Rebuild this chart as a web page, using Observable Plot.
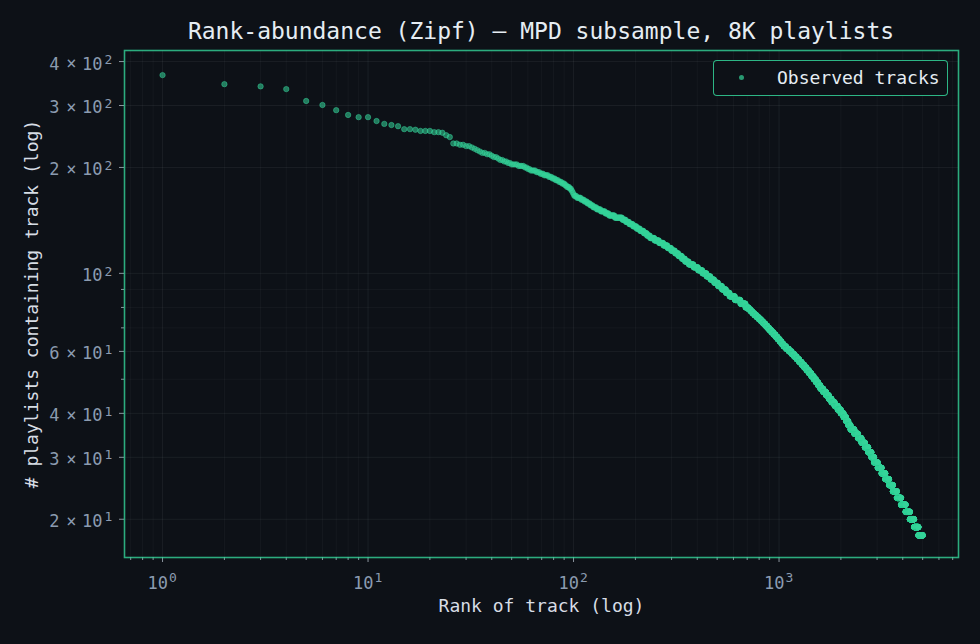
<!DOCTYPE html>
<html>
<head>
<meta charset="utf-8">
<script src="https://cdn.jsdelivr.net/npm/d3@7"></script>
<script src="https://cdn.jsdelivr.net/npm/@observablehq/plot@0.6"></script>
<style>
  html, body { margin: 0; padding: 0; background: #0d1117; }
  #wrap { position: relative; width: 980px; height: 644px; overflow: hidden; font-family: "DejaVu Sans Mono", monospace; background: #0d1117; }
  #title { height: 44px; box-sizing: border-box; padding: 19px 22px 0 124px; text-align: center; font-size: 23px; line-height: 24px; color: #e6edf3; white-space: nowrap; }
  #legend { position: absolute; left: 713px; top: 60px; width: 235px; height: 36px; box-sizing: border-box; border: 1.5px solid rgba(52,211,153,0.85); border-radius: 4px; background: #0d1117; }
  #legend .dot { position: absolute; left: 25px; top: 13.5px; width: 5px; height: 5px; border-radius: 50%; background: rgba(52,211,153,0.7); }
  #legend .lab { position: absolute; left: 63px; top: 5px; font-size: 18px; line-height: 24px; color: #e6edf3; white-space: nowrap; }
  svg { display: block; }
</style>
</head>
<body>
<div id="wrap">
  <div id="title">Rank-abundance (Zipf) — MPD subsample, 8K playlists</div>
  <div id="chart"></div>
  <div id="legend"><div class="dot"></div><div class="lab">Observed tracks</div></div>
</div>
<script>
// ---- data ----
// playlist counts of the 25 most frequent tracks (rank 1..25)
const headCounts = [366, 345, 340, 334, 309, 301, 291, 282, 278, 278, 271, 266, 264, 262, 257, 257, 256, 254, 254, 254, 252, 252, 251, 247, 244];
// from rank 26 on: playlist-count level and the last rank that has that level
const levelCounts = [
  234, 232, 230, 228, 226, 224, 222, 220, 218, 216, 214, 212, 210, 208, 206, 204, 202, 200, 198, 196,
  194, 192, 190, 188, 186, 184, 182, 180, 178, 176, 174, 172, 170, 168, 166, 164, 162, 160, 158, 156,
  154, 152, 150, 148, 146, 144, 142, 140, 138, 136, 134, 132, 130, 128, 126, 124, 122, 120, 118, 116,
  114, 112, 110, 108, 106, 104, 102, 100, 98, 96, 94, 92, 90, 88, 86, 84, 82, 80,
  79, 78, 77, 76, 75, 74, 73, 72, 71, 70, 69, 68, 67, 66, 65, 64, 63, 62, 61, 60,
  59, 58, 57, 56, 55, 54, 53, 52, 51, 50, 49, 48, 47, 46, 45, 44, 43, 42, 41, 40,
  39, 38, 37, 36, 35, 34, 33, 32, 31, 30, 29, 28, 27, 26, 25, 24, 23, 22, 21, 20, 19, 18
];
const levelLastRank = [
  27, 29, 31, 32, 33, 34, 35, 37, 39, 40, 42, 43, 45, 47, 49, 53, 57, 59, 61, 65,
  68, 71, 75, 78, 81, 84, 87, 90, 92, 95, 97, 98, 99, 100, 103, 108, 112, 116, 120, 124,
  129, 135, 142, 148, 158, 172, 179, 186, 194, 202, 210, 219, 227, 235, 247, 260, 273, 286, 298, 311,
  323, 336, 348, 363, 383, 403, 423, 443, 463, 483, 504, 527, 551, 574, 609, 648, 686, 710,
  726, 741, 758, 778, 797, 817, 836, 856, 876, 895, 916, 938, 961, 983, 1006, 1028, 1051, 1082, 1116, 1150,
  1184, 1218, 1252, 1287, 1324, 1360, 1397, 1435, 1473, 1511, 1550, 1588, 1640, 1693, 1746, 1799, 1863, 1929, 1995, 2060,
  2117, 2172, 2227, 2324, 2421, 2518, 2616, 2715, 2814, 2900, 3021, 3154, 3288, 3430, 3580, 3744, 3925, 4128, 4331, 4540, 4767, 5000
];

// ---- ticks ----
const xTicks = [1, 10, 100, 1000];
const xTickBase = ["10", "10", "10", "10"];
const xTickExp = ["0", "1", "2", "3"];
const xMinorTicks = [0.7, 0.8, 0.9, 2, 3, 4, 5, 6, 7, 8, 9, 20, 30, 40, 50, 60, 70, 80, 90,
  200, 300, 400, 500, 600, 700, 800, 900, 2000, 3000, 4000, 5000, 6000, 7000];
const yTicks = [20, 30, 40, 60, 100, 200, 300, 400];
const yTickCoef = ["2", "3", "4", "6", "", "2", "3", "4"];
const yTickTimes = ["×", "×", "×", "×", "", "×", "×", "×"];
const yTickBase = ["10", "10", "10", "10", "10", "10", "10", "10"];
const yTickExp = ["1", "1", "1", "1", "2", "2", "2", "2"];
const yMinorTicks = [50, 70, 80, 90];

const xLabel = "Rank of track (log)";
const yLabel = "# playlists containing track (log)";

// ---- build points (one per rank) ----
const points = [];
headCounts.forEach((c, i) => points.push({rank: i + 1, count: c}));
let rk = headCounts.length + 1;
levelCounts.forEach((c, i) => {
  for (; rk <= levelLastRank[i]; rk++) points.push({rank: rk, count: c});
});

const green = "#34d399";
const gridColor = "#c9d1d9";
const tickText = "#8b9bb0";
const tickLine = "#8b949e";
const mono = "DejaVu Sans Mono, monospace";
const yText = {frameAnchor: "left", lineAnchor: "middle", fill: tickText, fontFamily: mono};

const chart = Plot.plot({
  width: 980,
  height: 600,
  marginTop: 6,
  marginBottom: 87,
  marginLeft: 124,
  marginRight: 22,
  style: {background: "#0d1117", color: tickText, fontFamily: mono, fontSize: "17px"},
  x: {type: "log", domain: [0.653, 7470], label: null},
  y: {type: "log", domain: [15.57, 430], label: null},
  marks: [
    Plot.gridX(xMinorTicks, {stroke: gridColor, strokeOpacity: 0.045}),
    Plot.gridX(xTicks, {stroke: gridColor, strokeOpacity: 0.07}),
    Plot.gridY(yMinorTicks, {stroke: gridColor, strokeOpacity: 0.045}),
    Plot.gridY(yTicks, {stroke: gridColor, strokeOpacity: 0.07}),
    Plot.axisX(xMinorTicks, {tickSize: 3, tickFormat: () => "", stroke: tickLine, label: null}),
    Plot.axisX(xTicks, {tickSize: 5, tickFormat: () => "", stroke: tickLine, label: null}),
    Plot.axisY(yMinorTicks, {tickSize: 3, tickFormat: () => "", stroke: tickLine, label: null}),
    Plot.axisY(yTicks, {tickSize: 5, tickFormat: () => "", stroke: tickLine, label: null}),
    // x tick labels: 10 with superscript exponent
    Plot.text(xTicks, {x: d => d, text: (d, i) => xTickBase[i], frameAnchor: "bottom", dy: 26, dx: 5.5, textAnchor: "end", lineAnchor: "middle", fontSize: 17, fill: tickText, fontFamily: mono}),
    Plot.text(xTicks, {x: d => d, text: (d, i) => xTickExp[i], frameAnchor: "bottom", dy: 20, dx: 6.5, textAnchor: "start", lineAnchor: "middle", fontSize: 13, fill: tickText, fontFamily: mono}),
    // y tick labels: coefficient × 10 with superscript exponent
    Plot.text(yTicks, {...yText, y: d => d, text: (d, i) => yTickCoef[i], dx: -65, dy: 2.5, textAnchor: "end", fontSize: 17}),
    Plot.text(yTicks, {...yText, y: d => d, text: (d, i) => yTickTimes[i], dx: -48, dy: 2, textAnchor: "end", fontSize: 17}),
    Plot.text(yTicks, {...yText, y: d => d, text: (d, i) => yTickBase[i], dx: -22, dy: 2.5, textAnchor: "end", fontSize: 17}),
    Plot.text(yTicks, {...yText, y: d => d, text: (d, i) => yTickExp[i], dx: -20, dy: -2, textAnchor: "start", fontSize: 13}),
    Plot.dot(points, {x: "rank", y: "count", r: 2.7, fill: green, fillOpacity: 0.55, stroke: green, strokeOpacity: 0.6, strokeWidth: 0.8}),
    Plot.frame({stroke: green, strokeOpacity: 0.8, strokeWidth: 1.6}),
    Plot.text([xLabel], {frameAnchor: "bottom", dy: 54, fontSize: 18, fill: "#d7dde5", fontFamily: mono}),
    Plot.text([yLabel], {frameAnchor: "left", dx: -92, rotate: -90, textAnchor: "middle", fontSize: 18, fill: "#d7dde5", fontFamily: mono})
  ]
});
document.getElementById("chart").appendChild(chart);
</script>
</body>
</html>
